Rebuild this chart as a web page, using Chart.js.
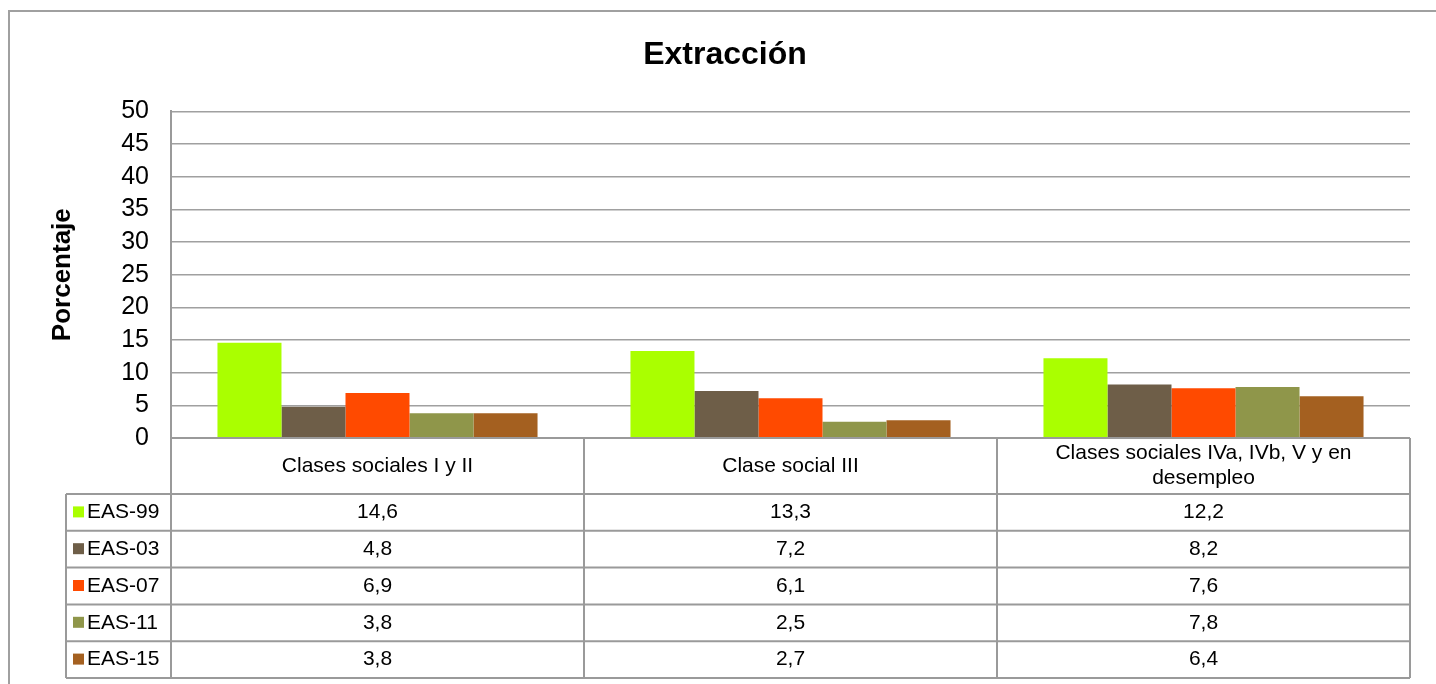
<!DOCTYPE html>
<html>
<head>
<meta charset="utf-8">
<script src="https://cdn.jsdelivr.net/npm/chart.js@4/dist/chart.umd.min.js"></script>
<style>
  html, body { margin: 0; padding: 0; background: #fff; }
  #wrap { width: 1436px; height: 684px; }
</style>
</head>
<body>
<div id="wrap"><canvas id="chart"></canvas></div>
<script>
'use strict';

const categories = ['Clases sociales I y II', 'Clase social III', ['Clases sociales IVa, IVb, V y en', 'desempleo']];
const seriesNames = ['EAS-99', 'EAS-03', 'EAS-07', 'EAS-11', 'EAS-15'];
const eas99 = [14.6, 13.3, 12.2];
const eas03 = [4.8, 7.2, 8.2];
const eas07 = [6.9, 6.1, 7.6];
const eas11 = [3.8, 2.5, 7.8];
const eas15 = [3.8, 2.7, 6.4];
const yTicks = [0, 5, 10, 15, 20, 25, 30, 35, 40, 45, 50];

const seriesValues = [eas99, eas03, eas07, eas11, eas15];
const seriesColors = ['#aaff00', '#6e5e48', '#ff4a00', '#8f964a', '#a46020'];

const FONT = '"Liberation Sans", Arial, sans-serif';
const lineGray = '#a0a0a0';

const fmt = (v) => v.toFixed(1).replace('.', ',');

// frame + data table under the plot
const tablePlugin = {
  id: 'dataTable',
  afterDraw(chart) {
    const { ctx, chartArea } = chart;
    const x = chart.scales.x;
    const left = chartArea.left, right = chartArea.right, top = chartArea.bottom;
    const headH = 56, rowH = 36.8, legendLeft = 66;
    const rowsTop = top + headH;
    const bottom = rowsTop + rowH * seriesNames.length;
    const colW = (right - left) / categories.length;

    ctx.save();
    // outer frame
    ctx.strokeStyle = lineGray;
    ctx.lineWidth = 2;
    ctx.strokeRect(9, 11, 1440, 700);

    ctx.lineWidth = 2;
    ctx.strokeStyle = '#9a9a9a';
    ctx.beginPath();
    ctx.moveTo(left, top); ctx.lineTo(right, top);
    for (let i = 0; i <= seriesNames.length; i++) {
      const y = rowsTop + i * rowH;
      ctx.moveTo(legendLeft, y); ctx.lineTo(right, y);
    }
    ctx.moveTo(legendLeft, rowsTop); ctx.lineTo(legendLeft, bottom);
    for (let c = 0; c <= categories.length; c++) {
      const xx = left + c * colW;
      ctx.moveTo(xx, top); ctx.lineTo(xx, bottom);
    }
    ctx.stroke();

    ctx.fillStyle = '#000';
    ctx.font = '21px ' + FONT;
    ctx.textAlign = 'center';
    ctx.textBaseline = 'middle';
    categories.forEach((cat, c) => {
      const cx = x.getPixelForValue(c);
      const lines = Array.isArray(cat) ? cat : [cat];
      const lh = 25;
      const y0 = top + headH / 2 - (lines.length - 1) * lh / 2;
      lines.forEach((ln, k) => ctx.fillText(ln, cx, y0 + k * lh));
    });

    seriesNames.forEach((name, i) => {
      const cy = rowsTop + i * rowH + rowH / 2;
      ctx.fillStyle = seriesColors[i];
      ctx.fillRect(73, cy - 6, 11, 11);
      ctx.fillStyle = '#000';
      ctx.textAlign = 'left';
      ctx.fillText(name, 87, cy);
      ctx.textAlign = 'center';
      seriesValues[i].forEach((v, c) => ctx.fillText(fmt(v), x.getPixelForValue(c), cy));
    });
    ctx.restore();
  }
};

new Chart(document.getElementById('chart'), {
  type: 'bar',
  data: {
    labels: categories,
    datasets: seriesNames.map((name, i) => ({
      label: name,
      data: seriesValues[i],
      backgroundColor: seriesColors[i],
      borderWidth: 0,
      categoryPercentage: 0.775,
      barPercentage: 1,
    })),
  },
  options: {
    responsive: true,
    maintainAspectRatio: false,
    animation: false,
    layout: { padding: { left: 40, right: 26, top: 0, bottom: 246 } },
    plugins: {
      legend: { display: false },
      tooltip: { enabled: false },
      title: {
        display: true,
        text: 'Extracción',
        color: '#000',
        font: { family: FONT, size: 32, weight: 'bold' },
        padding: { top: 36, bottom: 37 },
      },
    },
    scales: {
      x: { display: false },
      y: {
        min: 0,
        max: 50,
        afterBuildTicks: (s) => { s.ticks = yTicks.map((v) => ({ value: v })); },
        afterFit: (s) => { s.width = 131; },
        ticks: { color: '#000', font: { family: FONT, size: 25, lineHeight: 1 }, padding: 22, autoSkip: false },
        grid: { color: '#a0a0a0', lineWidth: 1.5, drawTicks: false },
        border: { color: '#9a9a9a', width: 2 },
        title: {
          display: true,
          text: 'Porcentaje',
          color: '#000',
          font: { family: FONT, size: 26, weight: 'bold' },
          padding: { top: 7, bottom: 0 },
        },
      },
    },
  },
  plugins: [tablePlugin],
});
</script>
</body>
</html>
